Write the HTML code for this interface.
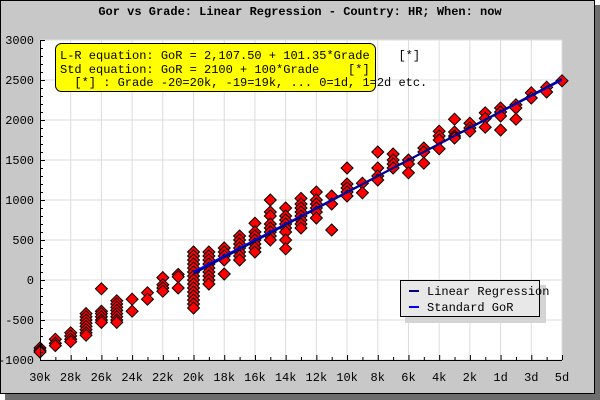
<!DOCTYPE html>
<html><head><meta charset="utf-8"><style>
html,body{margin:0;padding:0;background:#fff;}
svg{display:block;font-family:"Liberation Mono","DejaVu Sans Mono",monospace;}
</style></head><body>
<svg id="chart" width="600" height="400" viewBox="0 0 600 400">
<rect x="5" y="5" width="595" height="395" fill="#6e6e6e"/>
<rect x="0.5" y="0.5" width="594" height="393" fill="#c8c8c8" stroke="#000"/>
<text x="300" y="15" text-anchor="middle" font-size="12" font-weight="bold">Gor vs Grade: Linear Regression - Country: HR; When: now</text>
<rect x="40" y="40" width="522" height="320" fill="#fff"/>
<g id="grid"></g>
<g id="lines"></g>
<g id="points"></g>
<g id="axes"></g>
<g>
<rect x="55.5" y="43.5" width="320" height="48" rx="6" fill="#ffff00" stroke="#000"/>
<text x="60" y="59" font-size="12" xml:space="preserve">L-R equation: GoR = 2,107.50 + 101.35*Grade    [*]</text>
<text x="60" y="73" font-size="12" xml:space="preserve">Std equation: GoR = 2100 + 100*Grade    [*]</text>
<text x="60" y="86" font-size="12" xml:space="preserve">  [*] : Grade -20=20k, -19=19k, ... 0=1d, 1=2d etc.</text>
</g>
<g>
<rect x="405" y="285" width="141" height="38" fill="#d4d4d4"/>
<rect x="400.5" y="280.5" width="139" height="36" fill="#e8e8e8" stroke="#000"/>
<line x1="409" y1="291" x2="419" y2="291" stroke="#00008b" stroke-width="2"/>
<text x="427" y="295" font-size="12">Linear Regression</text>
<line x1="409" y1="307" x2="419" y2="307" stroke="#0000ff" stroke-width="2"/>
<text x="427" y="311" font-size="12">Standard GoR</text>
</g>
</svg>
<script>
const grades=[-30,-29,-28,-27,-26,-25,-24,-23,-22,-21,-20,-19,-18,-17,-16,-15,-14,-13,-12,-11,-10,-9,-8,-7,-6,-5,-4,-3,-2,-1,0,1,2,3,4];
const gorValues=[
[-850,-880,-900],[-740,-790,-820],[-660,-700,-740,-770],
[-420,-460,-500,-540,-580,-620,-660,-690],[-110,-390,-420,-460,-500,-530],
[-260,-300,-340,-380,-420,-460,-500,-530],[-240,-390],[-160,-240],[30,-60,-100,-140],[70,40,-100],
[350,300,250,200,150,100,50,0,-50,-100,-150,-200,-250,-300,-350],
[350,300,250,200,150,100,50,0,-50],[400,350,300,250,75],[550,500,450,400,350,300,250],
[710,600,550,500,450,400,350],[1000,850,800,700,650,600,550,500],[900,800,750,700,650,600,500,390],
[1020,950,900,850,800,750,700,650],[1100,1000,950,900,850,775],[1050,950,625],[1400,1200,1150,1100,1050],
[1210,1090],[1600,1400,1300,1250],[1575,1500,1450,1400],[1500,1450,1340],[1650,1600,1460],
[1860,1800,1750,1640],[2010,1850,1800,1775],[1960,1900,1860],[2090,2020,1910],[2150,2100,2050,1875],
[2190,2150,2010],[2340,2275],[2410,2350],[2490]];
const xTickGrades=[-30,-28,-26,-24,-22,-20,-18,-16,-14,-12,-10,-8,-6,-4,-2,0,2,4];
const xTickLabels=["30k","28k","26k","24k","22k","20k","18k","16k","14k","12k","10k","8k","6k","4k","2k","1d","3d","5d"];
const yTicks=[-1000,-500,0,500,1000,1500,2000,2500,3000];
const lrIntercept=2107.5, lrSlope=101.35, stdIntercept=2100, stdSlope=100, lineStart=-20, lineEnd=4;

const NS="http://www.w3.org/2000/svg";
const X0=40,X1=562,Y0=40,Y1=360,GMIN=-30,GMAX=4,VMIN=-1000,VMAX=3000;
const xs=g=>X0+(g-GMIN)/(GMAX-GMIN)*(X1-X0);
const ys=v=>Y1-(v-VMIN)/(VMAX-VMIN)*(Y1-Y0);
function mk(tag,attrs,parent){const e=document.createElementNS(NS,tag);for(const k in attrs)e.setAttribute(k,attrs[k]);parent.appendChild(e);return e;}
const grid=document.getElementById('grid'),lines=document.getElementById('lines'),pts=document.getElementById('points'),axes=document.getElementById('axes');
xTickGrades.forEach((g,i)=>{
  const gl=mk('line',{x1:xs(g),x2:xs(g),y1:Y0,y2:Y1,stroke:'#dcdcdc'},grid);
  
  
  const t=mk('text',{x:xs(g),y:Y1+21,'text-anchor':'middle','font-size':'12'},axes);
  t.textContent=xTickLabels[i];
  
  
});
yTicks.forEach(v=>{
  const gl=mk('line',{x1:X0,x2:X1,y1:ys(v),y2:ys(v),stroke:'#dcdcdc'},grid);
  
  
  const t=mk('text',{x:X0-6,y:ys(v)+4,'text-anchor':'end','font-size':'12'},axes);
  t.textContent=v;
  
  
});
for(let v=VMIN;v<=VMAX;v+=100){const major=v%500===0;mk('line',{x1:X0,x2:X0+(major?5:3),y1:ys(v)+0.5,y2:ys(v)+0.5,stroke:'#000'},axes);}
for(let g=GMIN;g<=GMAX;g++){const major=xTickGrades.includes(g);mk('line',{x1:xs(g)+0.5,x2:xs(g)+0.5,y1:Y1,y2:Y1-(major?5:3),stroke:'#000'},axes);}
const ax=mk('line',{x1:X0+0.5,x2:X0+0.5,y1:Y0,y2:Y1+0.5,stroke:'#000'},axes);


const bx=mk('line',{x1:X0,x2:X1,y1:Y1+0.5,y2:Y1+0.5,stroke:'#000'},axes);


grades.forEach((g,i)=>{
  gorValues[i].forEach(v=>{
    const cx=xs(g),cy=ys(v);
    const p=mk('polygon',{points:`${cx},${cy-6} ${cx+6},${cy} ${cx},${cy+6} ${cx-6},${cy}`,fill:'#ff0000',stroke:'#000','stroke-width':'1'},pts);
    
    
  });
});
const sl=mk('line',{x1:xs(lineStart),y1:ys(stdIntercept+stdSlope*lineStart),x2:xs(lineEnd),y2:ys(stdIntercept+stdSlope*lineEnd),stroke:'#0000ff','stroke-width':'2'},lines);


const rl=mk('line',{x1:xs(lineStart),y1:ys(lrIntercept+lrSlope*lineStart),x2:xs(lineEnd),y2:ys(lrIntercept+lrSlope*lineEnd),stroke:'#00008b','stroke-width':'2'},lines);


// lines drawn over points
pts.parentNode.appendChild(lines);
</script>
</body></html>
